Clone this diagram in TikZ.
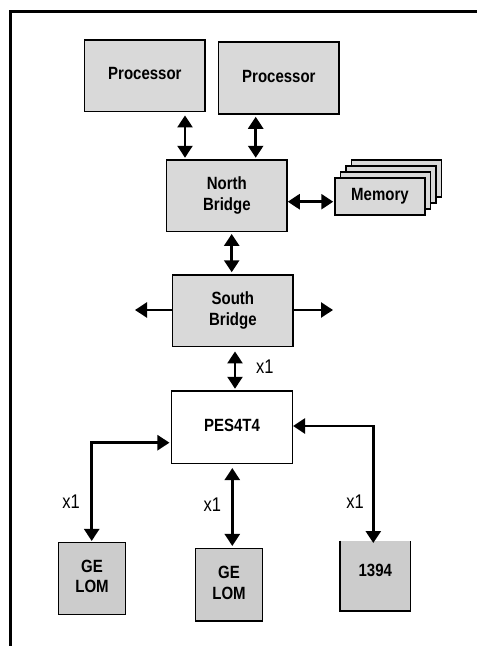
\documentclass[tikz,border=0pt]{standalone}
\usepackage{fontspec}
\setmainfont{Liberation Sans}
\usepackage{graphicx}
\usetikzlibrary{arrows.meta}
\definecolor{boxgray}{HTML}{D9D9D9}
\definecolor{boxgrayb}{HTML}{CCCCCC}
\newcommand{\tallbold}[1]{\scalebox{1}[1.18]{\bfseries\fontsize{15}{17.5}\selectfont\begin{tabular}{@{}c@{}}#1\end{tabular}}}
\newcommand{\xlab}{\scalebox{1}[1.2]{\fontsize{16.5}{18}\selectfont x1}}
\tikzset{
  blockbox/.style={draw=black, line width=1.5pt, fill=boxgray, inner sep=0pt},
  lowbox/.style={blockbox, fill=boxgrayb},
  whitebox/.style={draw=black, line width=1.5pt, fill=white, inner sep=0pt},
  conn/.style={line width=2.6pt, -{Triangle[length=12pt,width=15pt]}},
  biconn/.style={line width=2.6pt, {Triangle[length=12pt,width=15pt]}-{Triangle[length=12pt,width=15pt]}},
  lbl/.style={inner sep=0pt},
}
\begin{document}
\begin{tikzpicture}[x=1pt,y=-1pt]
\useasboundingbox (0,0) rectangle (477,646);
% frame
\draw[line width=2.8pt] (10.5,646) -- (10.5,11.7) -- (477,11.7);

% boxes
\node[blockbox, minimum width=120.3pt, minimum height=71.7pt] (p1) at (144.85,75.85) {\tallbold{Processor}};
\node[blockbox, minimum width=120.3pt, minimum height=72pt] (p2) at (278.85,78) {\tallbold{Processor}};
\node[blockbox, minimum width=120.3pt, minimum height=71.7pt] (nb) at (226.85,195.85) {\tallbold{North\\Bridge}};
\node[blockbox, minimum width=120.3pt, minimum height=71.7pt] (sb) at (232.85,310.85) {\tallbold{South\\Bridge}};
\node[whitebox, minimum width=120.6pt, minimum height=72.3pt] (pes) at (232,427.15) {\tallbold{PES4T4}};
\node[lowbox, minimum width=66.6pt, minimum height=71.6pt] (ge1) at (92,578.5) {\tallbold{GE\\LOM}};
\node[lowbox, minimum width=66.6pt, minimum height=72.3pt] (ge2) at (229,584.85) {\tallbold{GE\\LOM}};
% 1394 box (no top border)
\node[fill=boxgrayb, inner sep=0pt, minimum width=70pt, minimum height=70.3pt, anchor=center] (fw) at (375.3,575.85) {};
\draw[line width=1.5pt] (fw.north west) -- (fw.south west) -- (fw.south east) -- (fw.north east);
\node[lbl] (fwt) at (375.3,572.5) {\tallbold{1394}};

% memory stack
\node[blockbox, minimum width=90pt, minimum height=37pt] (m3) at (396.5,178.5) {};
\node[blockbox, minimum width=90pt, minimum height=37pt] (m2) at (391,184.5) {};
\node[blockbox, minimum width=90pt, minimum height=37pt] (m1) at (385.5,190.5) {};
\node[blockbox, minimum width=90pt, minimum height=37pt] (mem) at (380,196.5) {\tallbold{Memory}};

% connector x positions
\coordinate (a1) at (185,0);
\coordinate (a2) at (255.7,0);
\coordinate (a3) at (231.7,0);
\coordinate (a4) at (235,0);
\coordinate (a5) at (232.3,0);
\coordinate (ym) at (0,201.7);
\coordinate (ys) at (0,310);
\coordinate (sl) at (135,310);
\coordinate (sr) at (333,310);
\coordinate (g1c) at (91.7,442.7);
\coordinate (fwc) at (373.3,426);

\draw[biconn, shorten <=3pt, shorten >=1.5pt] (a1 |- p1.south) -- (a1 |- nb.north);
\draw[biconn, shorten <=2pt, shorten >=1.5pt] (a2 |- p2.south) -- (a2 |- nb.north);
\draw[biconn, shorten >=1pt] (ym -| nb.east) -- (ym -| mem.west);
\draw[biconn, shorten <=1.5pt, shorten >=2pt] (a3 |- nb.south) -- (a3 |- sb.north);
\draw[conn] (ys -| sb.west) -- (sl);
\draw[conn] (ys -| sb.east) -- (sr);
\draw[biconn, shorten <=4pt, shorten >=1.5pt] (a4 |- sb.south) -- (a4 |- pes.north);
\draw[biconn, shorten <=1.5pt, shorten >=1pt] (g1c -| pes.west) -- (g1c) -- (g1c |- ge1.north);
\draw[biconn, shorten <=4pt, shorten >=2pt] (a5 |- pes.south) -- (a5 |- ge2.north);
\draw[biconn, shorten >=-2.5pt] (fwc -| pes.east) -- (fwc) -- (fwc |- fw.north);

% labels
\node[lbl, anchor=west] (l1) at (256,366.7) {\xlab};
\node[lbl] (l2) at (71,501.7) {\xlab};
\node[lbl] (l3) at (212.3,505) {\xlab};
\node[lbl] (l4) at (355,501.7) {\xlab};
\end{tikzpicture}
\end{document}
